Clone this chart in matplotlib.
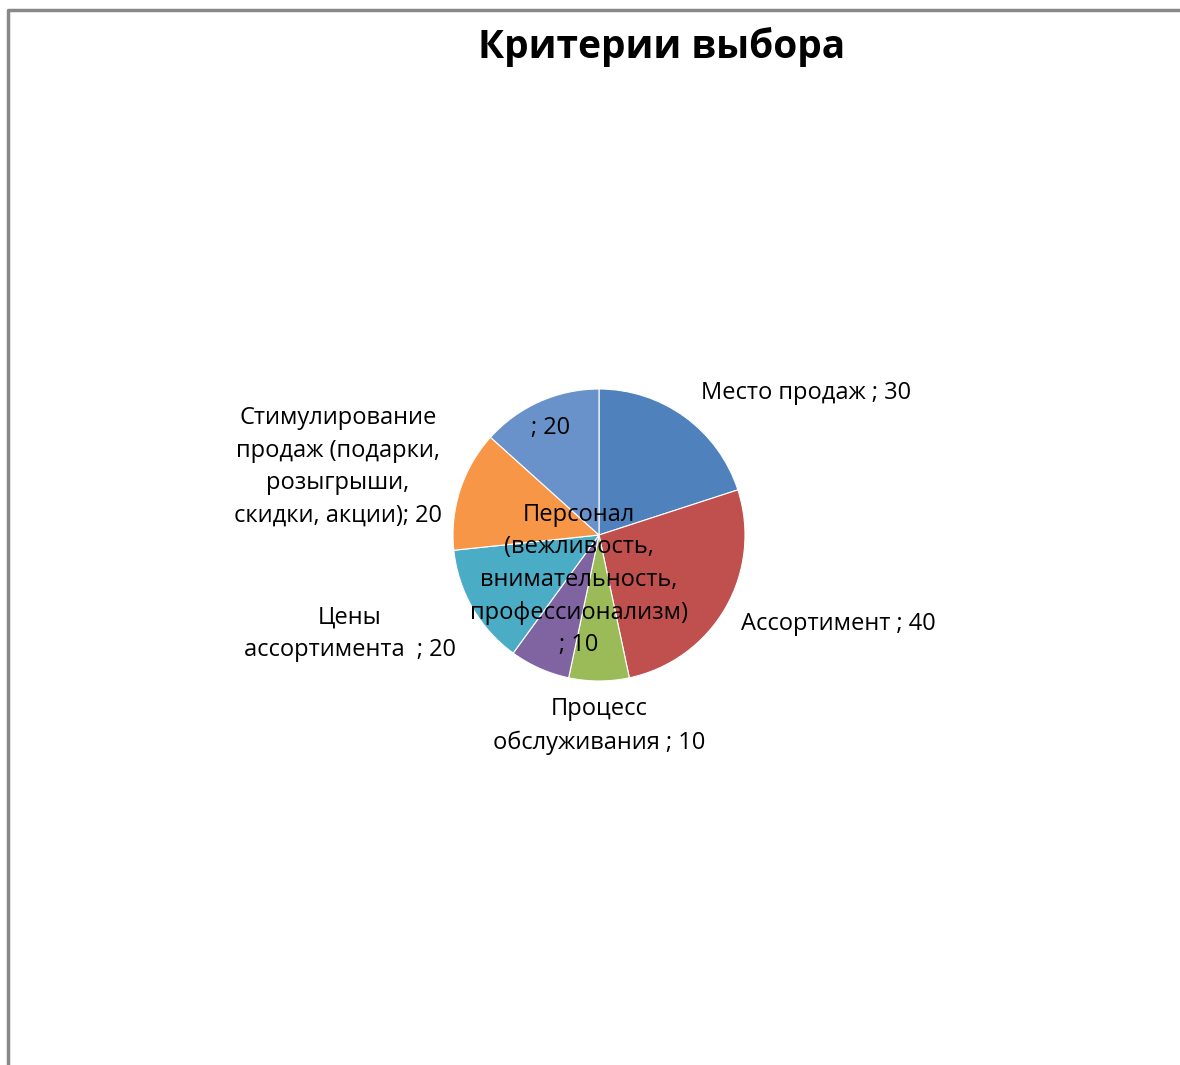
import matplotlib
matplotlib.use("Agg")
import matplotlib.pyplot as plt

plt.rcParams["font.family"] = ["Open Sans", "DejaVu Sans"]

# данные диаграммы
CATEGORIES = [
    "Место продаж ",
    "Ассортимент ",
    "Процесс обслуживания ",
    "Персонал (вежливость, внимательность, профессионализм)",
    "Цены ассортимента  ",
    "Стимулирование продаж (подарки, розыгрыши, скидки, акции)",
    "",
]
VALUES = [30, 40, 10, 10, 20, 20, 20]
COLORS = ["#4F81BD", "#C0504D", "#9BBB59", "#8064A2", "#4BACC6", "#F79646", "#6A92CA"]

# подписи с переносами строк, как в Excel
LABELS = [
    f"{CATEGORIES[0]}; {VALUES[0]}",
    f"{CATEGORIES[1]}; {VALUES[1]}",
    f"Процесс\nобслуживания ; {VALUES[2]}",
    f"Персонал\n(вежливость,\nвнимательность,\nпрофессионализм)\n; {VALUES[3]}",
    f"Цены\nассортимента  ; {VALUES[4]}",
    f"Стимулирование\nпродаж (подарки,\nрозыгрыши,\nскидки, акции); {VALUES[5]}",
    f"; {VALUES[6]}",
]
# центры подписей (в пикселях от левого верхнего угла)
LABEL_POS = [(806, 393), (838, 624), (599, 726), (579, 580), (350, 634), (338, 467), (551, 428)]

W, H = 1180, 1065
fig = plt.figure(figsize=(W / 100, H / 100), dpi=100)
ax = fig.add_axes([0, 0, 1, 1])

# рамка области диаграммы
ax.plot([8, 8, W + 5], [-5, H - 10, H - 10], color="#888888", lw=2.5, solid_capstyle="butt")

cx, cy, r = 599, H - 535, 146
ax.pie(VALUES, colors=COLORS, startangle=90, counterclock=False, radius=r,
       center=(cx, cy), frame=True,
       wedgeprops=dict(edgecolor="white", linewidth=0.8))
ax.set_xlim(0, W)
ax.set_ylim(0, H)
ax.set_aspect("equal")
ax.axis("off")

for text, (x, y) in zip(LABELS, LABEL_POS):
    ax.text(x, H - y, text, ha="center", va="center", fontsize=17,
            linespacing=1.48, color="black")

ax.text(662, H - 47, "Критерии выбора", ha="center", va="center",
        fontsize=28, fontweight="bold")

fig.savefig("out.png", dpi=100)
